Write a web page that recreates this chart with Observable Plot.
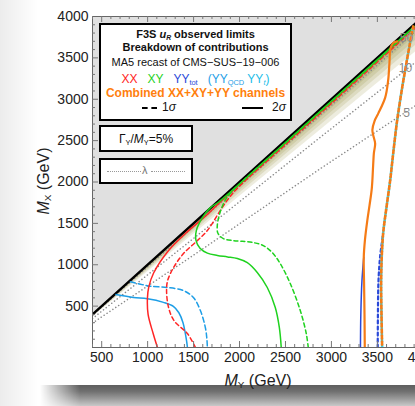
<!DOCTYPE html>
<html><head><meta charset="utf-8">
<script src="https://cdn.jsdelivr.net/npm/d3@7"></script>
<script src="https://cdn.jsdelivr.net/npm/@observablehq/plot@0.6"></script>
<style>
html,body{margin:0;padding:0;width:415px;height:406px;overflow:hidden;background:#fff;font-family:"Liberation Sans",Arial,Helvetica,sans-serif;color:#111;}
#wrap{position:relative;width:415px;height:406px;overflow:hidden;background:linear-gradient(to right,#ececec 0px,#fff 38px);}
#chart{position:absolute;left:0;top:0;width:440px;height:406px;}
#chart svg{max-width:none !important;width:440px;height:406px;}
.abs{position:absolute;white-space:nowrap;}
.box{position:absolute;box-sizing:border-box;border:2px solid #000;background:#fff;}
.ctr{position:absolute;left:99px;width:193px;text-align:center;white-space:nowrap;}
sub{font-size:0.62em;vertical-align:-0.25em;line-height:0;}
#shadow{position:absolute;left:40px;top:385px;width:380px;height:21px;
 background:linear-gradient(to bottom,#5e5e5e 0%,#6f6f6f 30%,#9a9a9a 65%,#c9c9c9 100%);
 -webkit-mask-image:linear-gradient(to right,transparent 0px,#000 40px);mask-image:linear-gradient(to right,transparent 0px,#000 40px);}
</style></head>
<body><div id="wrap">
<div id="shadow"></div>
<div id="chart"></div>
</div>
<script>
// ---------- data ----------
const diagonal = [400, 4100];
const bandFractions = [0.008, 0.016, 0.026, 0.038, 0.052, 0.068, 0.088];
const xTickLabels = [500, 1000, 1500, 2000, 2500, 3000, 3500, 4000];
const yTickLabels = [500, 1000, 1500, 2000, 2500, 3000, 3500, 4000];

// lambda contours (dotted grey)
const lambda5 = [[400,295],[1465,1090],[2878,2160],[3748,2800],[4100,3060]];
const lambda10 = [[400,350],[1400,1230],[2878,2540],[3748,3300],[4100,3610]];
const lambda50 = [[400,390],[2000,1950],[3824,3730],[4100,4010]];
const lambdaLabels = ["50", "10", "5"];
const lambdaLabelX = [3817, 3806, 3817];
const lambdaLabelY = [3734, 3372, 2828];

// XX channel (red)
const xx2s = [[1107,0],[1060,170],[1005,400],[998,600],[1012,730],[1065,900],[1226,1170],[1411,1377],[1574,1534],[1665,1622],[1770,1738],[2500,2468],[3200,3168],[3900,3868]];
const xx1s = [[1520,0],[1433,169],[1290,320],[1228,483],[1206,690],[1218,810],[1282,966],[1390,1135],[1541,1292],[1650,1413],[1770,1618],[1880,1800],[2000,1950],[2500,2450],[3200,3150],[3900,3850]];
// XY channel (green)
const xy2s = [[2454,0],[2433,242],[2389,483],[2302,725],[2193,906],[2085,1025],[1976,1075],[1870,1095],[1759,1112],[1650,1140],[1570,1200],[1527,1292],[1530,1413],[1596,1570],[1683,1690],[1770,1755],[1900,1878],[2500,2478],[3200,3178],[3900,3878]];
const xy1s = [[2748,0],[2726,169],[2661,447],[2552,773],[2443,1014],[2356,1147],[2259,1232],[2150,1268],[2030,1283],[1933,1292],[1824,1316],[1765,1380],[1758,1473],[1780,1600],[1830,1750],[1900,1865],[2500,2470],[3200,3170],[3900,3870]];
// YY_QCD (light blue)
const yyqcd2s = [[655,640],[846,604],[998,588],[1172,545],[1280,497],[1340,420],[1385,300],[1410,170],[1425,70],[1433,0]];
const yyqcd1s = [[813,795],[940,760],[1030,740],[1215,725],[1389,688],[1498,604],[1574,447],[1628,242],[1645,100],[1650,0]];
// YY_tot (blue)
const yytot2s = [[3316,0],[3320,400],[3332,800],[3352,1090]];
const yytot1s = [[3504,0],[3506,400],[3512,800],[3530,1100],[3560,1350]];
// Combined (orange)
const comb2s = [[3363,0],[3360,400],[3355,800],[3352,1090],[3365,1300],[3390,1530],[3415,1720],[3440,1930],[3454,2200],[3462,2350],[3476,2464],[3456,2560],[3446,2630],[3470,2740],[3509,2826],[3585,3019],[3617,3224],[3632,3450],[3642,3610],[3672,3680],[3715,3700]];
const comb1s = [[3552,0],[3545,400],[3541,809],[3552,1200],[3566,1413],[3600,1700],[3639,2017],[3672,2343],[3715,2741],[3770,3140],[3815,3430],[3846,3623],[3875,3800],[3890,3880]];

// ---------- colours ----------
const RED = "#ff2525", GREEN = "#1fd21f", LBLUE = "#1e9ee6", BLUE = "#2a48d8", ORANGE = "#f57b16", CYAN = "#3dd3e0";

const W = 440, H = 406, ML = 92, MR = 8, MT = 16, MB = 59;
const plotW = W - ML - MR, plotH = H - MT - MB;

const px = d => d[0], py = d => d[1];
const curve = (data, stroke, opts = {}) => Plot.line(data, {x: px, y: py, stroke, strokeWidth: 1.5, curve: "catmull-rom", clip: true, ...opts});

const minorX = d3.range(400, 4101, 100).filter(v => v % 500 !== 0);
const minorY = d3.range(100, 4000, 100).filter(v => v % 500 !== 0);
const majorX = d3.range(500, 4101, 500);
const majorY = d3.range(500, 4000, 500);

const lambdaTable = lambdaLabels.map((t, i) => ({t, x: lambdaLabelX[i], y: lambdaLabelY[i]}));

const marks = [
  Plot.areaY(diagonal, {x: d => d, y1: d => d, y2: () => 4000, fill: "#e0e0e0", clip: true}),
  ...bandFractions.map(f => Plot.areaY(diagonal, {x: d => d, y1: d => d * (1 - f), y2: d => d, fill: "#807818", fillOpacity: 0.14, clip: true})),
  ...[lambda5, lambda10, lambda50].map(L => Plot.line(L, {x: px, y: py, stroke: "#8a8a8a", strokeWidth: 1.5, strokeDasharray: "0.1,3.4", strokeLinecap: "round", clip: true})),
  Plot.line(diagonal, {x: d => d, y: d => d, stroke: "#000", strokeWidth: 2.4, clip: true}),
  curve(yyqcd1s, LBLUE, {strokeDasharray: "5,3"}),
  curve(yyqcd2s, LBLUE),
  curve(xx1s, RED, {strokeDasharray: "4,3"}),
  curve(xx2s, RED),
  curve(xy1s, GREEN, {strokeDasharray: "4,3"}),
  curve(xy2s, GREEN),
  curve(yytot2s, BLUE),
  curve(yytot1s, BLUE, {strokeDasharray: "3,3", strokeWidth: 2.2}),
  curve(comb1s, CYAN, {strokeDasharray: "3,3", strokeWidth: 2.6}),
  curve(comb1s, ORANGE, {strokeDasharray: "3,3", strokeDashoffset: 3, strokeWidth: 2.6}),
  curve(comb2s, ORANGE, {strokeWidth: 2.2}),
  Plot.text(lambdaTable, {x: "x", y: "y", text: "t", fill: "#8a8a8a", fontSize: 12, textAnchor: "middle"}),
  Plot.frame({stroke: "#666", strokeWidth: 1}),
  Plot.tickX(minorX, {x: d => d, insetTop: plotH - 3, stroke: "#777"}),
  Plot.tickX(majorX, {x: d => d, insetTop: plotH - 6, stroke: "#777"}),
  Plot.tickX(minorX, {x: d => d, insetBottom: plotH - 3, stroke: "#777"}),
  Plot.tickX(majorX, {x: d => d, insetBottom: plotH - 6, stroke: "#777"}),
  Plot.tickY(minorY, {y: d => d, insetRight: plotW - 3, stroke: "#777"}),
  Plot.tickY(majorY, {y: d => d, insetRight: plotW - 6, stroke: "#777"}),
  Plot.tickY(minorY, {y: d => d, insetLeft: plotW - 3, stroke: "#777"}),
  Plot.tickY(majorY, {y: d => d, insetLeft: plotW - 6, stroke: "#777"}),
  Plot.axisX(xTickLabels, {tickSize: 0, tickPadding: 5, fontSize: 14, label: null, tickFormat: d => String(d), fill: "#222"}),
  Plot.axisY(yTickLabels, {tickSize: 0, tickPadding: 4, fontSize: 14, label: null, tickFormat: d => String(d), fill: "#222"})
];

const chart = Plot.plot({
  width: W, height: H,
  marginLeft: ML, marginRight: MR, marginTop: MT, marginBottom: MB,
  x: {domain: [400, 4100]},
  y: {domain: [0, 4000]},
  style: {fontFamily: "'Liberation Sans', Arial, sans-serif", color: "#222", background: "transparent", overflow: "visible", maxWidth: "none"},
  marks
});
document.getElementById("chart").appendChild(chart);

// ---------- overlay texts (legend boxes, axis titles) ----------
const wrap = document.getElementById("wrap");
function add(html, style, cls = "abs") {
  const d = document.createElement("div");
  d.className = cls;
  d.innerHTML = html;
  Object.assign(d.style, style);
  wrap.appendChild(d);
  return d;
}
add("", {left: "99px", top: "23px", width: "193px", height: "98px"}, "box");
add("F3S <i>u</i><sub><i>R</i></sub> observed limits", {top: "29px", fontSize: "11px", lineHeight: "11px", fontWeight: "bold"}, "ctr");
add("Breakdown of contributions", {top: "42px", fontSize: "11px", lineHeight: "11px", fontWeight: "bold"}, "ctr");
add("MA5 recast of CMS\u2212SUS\u221219\u2212006", {top: "56.5px", fontSize: "11px", lineHeight: "11px"}, "ctr");
add(`<span style="color:${RED}">XX</span>&nbsp;&nbsp; <span style="color:${GREEN}">XY</span>&nbsp;&nbsp; <span style="color:${BLUE}">YY<sub>tot</sub></span>&nbsp;&nbsp; <span style="color:${LBLUE}">(YY<sub>QCD</sub></span> <span style="color:#22bde8">YY<sub><i>t</i></sub>)</span>`, {top: "73px", fontSize: "12px", lineHeight: "12px"}, "ctr");
add("Combined XX+XY+YY channels", {top: "87px", fontSize: "12px", lineHeight: "12px", fontWeight: "bold", color: "#ff7f0e"}, "ctr");
add("", {left: "142px", top: "107px", width: "15px", height: "0px", borderTop: "2px dashed #000"});
add("1<i>σ</i>", {left: "162px", top: "101px", fontSize: "12px", lineHeight: "12px"});
add("", {left: "242px", top: "107px", width: "21px", height: "0px", borderTop: "2px solid #000"});
add("2<i>σ</i>", {left: "272px", top: "101px", fontSize: "12px", lineHeight: "12px"});

add("", {left: "99px", top: "125px", width: "94px", height: "27px"}, "box");
add("Γ<sub>Y</sub>/<i>M</i><sub>Y</sub>=5%", {left: "99px", width: "94px", textAlign: "center", top: "133px", fontSize: "12px", lineHeight: "12px"});
add("", {left: "99px", top: "158px", width: "94px", height: "26px"}, "box");
add("", {left: "107px", top: "171px", width: "34px", height: "0px", borderTop: "1.5px dotted #999"});
add("", {left: "151px", top: "171px", width: "34px", height: "0px", borderTop: "1.5px dotted #999"});
add("λ", {left: "142px", top: "165px", fontSize: "11px", lineHeight: "11px", color: "#777"});

add("<i>M</i><sub>Y</sub> (GeV)", {left: "258px", top: "373px", fontSize: "16px", lineHeight: "16px", transform: "translateX(-50%)", color: "#222"});
add("<i>M</i><sub>X</sub> (GeV)", {left: "44px", top: "181px", fontSize: "16px", lineHeight: "16px", transform: "translate(-50%,-50%) rotate(-90deg)", color: "#222"});
</script>
</body></html>
